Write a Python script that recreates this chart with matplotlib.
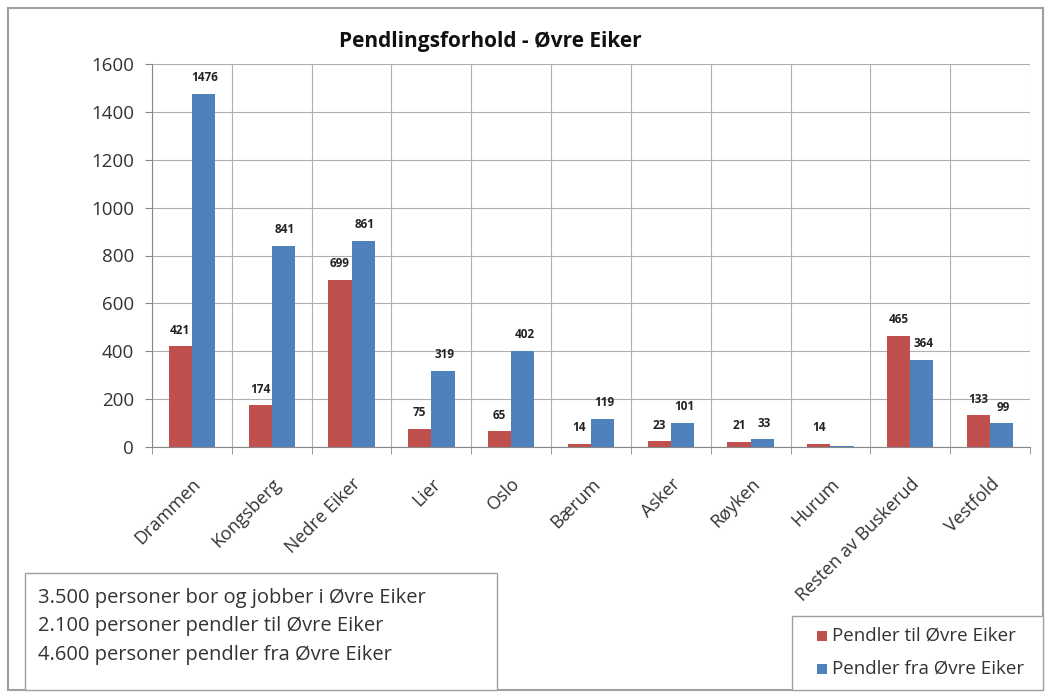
import matplotlib
matplotlib.use("Agg")
import matplotlib.pyplot as plt
import numpy as np
from matplotlib.patches import Rectangle

plt.rcParams['font.family'] = ['Open Sans', 'DejaVu Sans']

categories = ["Drammen", "Kongsberg", "Nedre Eiker", "Lier", "Oslo", "Bærum",
              "Asker", "Røyken", "Hurum", "Resten av Buskerud", "Vestfold"]
til_ovre_eiker = [421, 174, 699, 75, 65, 14, 23, 21, 14, 465, 133]
fra_ovre_eiker = [1476, 841, 861, 319, 402, 119, 101, 33, 4, 364, 99]
fra_labels = ["1476", "841", "861", "319", "402", "119", "101", "33", "", "364", "99"]
yticks = [0, 200, 400, 600, 800, 1000, 1200, 1400, 1600]
summary_lines = ["3.500 personer bor og jobber i Øvre Eiker",
                 "2.100 personer pendler til Øvre Eiker",
                 "4.600 personer pendler fra Øvre Eiker"]

RED = "#C0504D"
BLUE = "#4F81BD"

W, H = 1051, 698
fig = plt.figure(figsize=(W / 100, H / 100), dpi=100)
fig.patch.set_facecolor("white")

def fx(px):
    return px / W

def fy(py):
    return 1 - py / H

# outer chart frame
fig.patches.append(Rectangle((fx(8), fy(690)), fx(1043) - fx(8), fy(8) - fy(690),
                             transform=fig.transFigure, fill=False,
                             edgecolor="#a0a0a0", linewidth=1.5))

ax = fig.add_axes([fx(152), fy(447), fx(1030) - fx(152), fy(64) - fy(447)])

x = np.arange(len(categories))
bw = 0.29
ax.bar(x - bw / 2, til_ovre_eiker, bw, color=RED, label="Pendler til Øvre Eiker", zorder=3)
ax.bar(x + bw / 2, fra_ovre_eiker, bw, color=BLUE, label="Pendler fra Øvre Eiker", zorder=3)

for xi, v in zip(x, til_ovre_eiker):
    ax.text(xi - bw / 2, v + 40, str(v), ha="center", va="bottom",
            fontsize=8.5, fontweight="bold", color="#222222", zorder=4)
for xi, v, lab in zip(x, fra_ovre_eiker, fra_labels):
    if lab:
        ax.text(xi + bw / 2 + 0.02, v + 40, lab, ha="center", va="bottom",
                fontsize=8.5, fontweight="bold", color="#222222", zorder=4)

ax.set_xlim(-0.5, len(categories) - 0.5)
ax.set_ylim(0, 1600)
ax.set_yticks(yticks)
ax.set_yticklabels([str(t) for t in yticks], fontsize=13.5, color="#333333")
ax.set_xticks(x)
ax.set_xticklabels(categories, rotation=45, ha="right", rotation_mode="anchor",
                   fontsize=13, color="#333333")
ax.set_xticks(np.arange(-0.5, len(categories), 1.0), minor=True)
ax.tick_params(axis="x", which="major", length=0, pad=20)
ax.tick_params(axis="x", which="minor", length=5, color="#888888")
ax.tick_params(axis="y", length=5, color="#888888", pad=8)

# gridlines: horizontal at each tick, vertical between categories
for t in yticks:
    ax.axhline(t, color="#b0b0b0", linewidth=0.8, zorder=1)
for b in np.arange(-0.5, len(categories), 1.0):
    ax.axvline(b, color="#b0b0b0", linewidth=0.8, zorder=1)
for s in ax.spines.values():
    s.set_visible(False)
ax.spines["left"].set_visible(True)
ax.spines["left"].set_color("#888888")
ax.spines["bottom"].set_visible(True)
ax.spines["bottom"].set_color("#888888")

fig.text(fx(490), fy(42), "Pendlingsforhold - Øvre Eiker", ha="center", va="center",
         fontsize=15, fontweight="bold", color="#111111")

# summary text box
fig.patches.append(Rectangle((fx(25), fy(690)), fx(497) - fx(25), fy(573) - fy(690),
                             transform=fig.transFigure, fill=True, facecolor="white",
                             edgecolor="#a0a0a0", linewidth=1.0))
for i, line in enumerate(summary_lines):
    fig.text(fx(38), fy(598 + 28.5 * i), line, ha="left", va="center",
             fontsize=14.5, color="#333333")

# legend box
fig.patches.append(Rectangle((fx(792), fy(690)), fx(1043) - fx(792), fy(616) - fy(690),
                             transform=fig.transFigure, fill=True, facecolor="white",
                             edgecolor="#a0a0a0", linewidth=1.0))
for i, (lab, col) in enumerate([("Pendler til Øvre Eiker", RED),
                                ("Pendler fra Øvre Eiker", BLUE)]):
    yc = 636 + 33 * i
    fig.patches.append(Rectangle((fx(817), fy(yc + 5)), fx(827) - fx(817), fy(yc - 5) - fy(yc + 5),
                                 transform=fig.transFigure, facecolor=col, edgecolor="none"))
    fig.text(fx(832), fy(yc), lab, ha="left", va="center", fontsize=13.5, color="#333333")

fig.savefig("out.png", dpi=100)
